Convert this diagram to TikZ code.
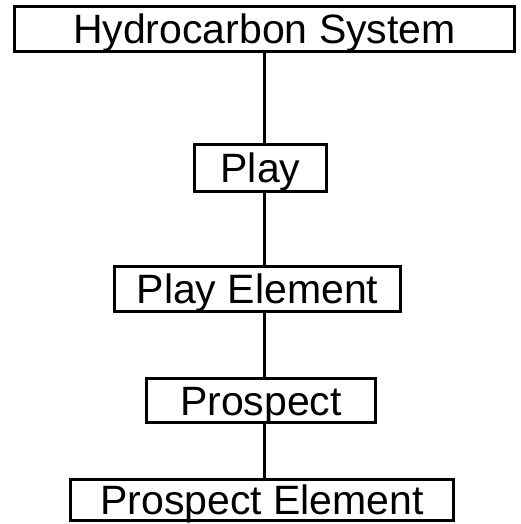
\documentclass[tikz,border=0pt]{standalone}
\usepackage{fontspec}
\setmainfont{Liberation Sans}
\begin{document}
\begin{tikzpicture}[x=1pt,y=-1pt,
  levelbox/.style={draw=black, line width=3.2pt, rectangle, inner sep=0pt,
    text height=29.5pt, text depth=0pt,
    font=\fontsize{41}{41}\selectfont, text=black},
  link/.style={draw=black, line width=3pt}]
  \useasboundingbox[fill=white] (0,0) rectangle (521,524);

  \node[levelbox, minimum width=500, minimum height=45] (hs) at (264.5,29) {Hydrocarbon System};
  \node[levelbox, minimum width=132, minimum height=47] (play) at (260.5,168) {Play};
  \node[levelbox, minimum width=286, minimum height=45] (pe) at (257.5,289) {Play Element};
  \node[levelbox, minimum width=229, minimum height=44] (pr) at (261,400.5) {Prospect};
  \node[levelbox, minimum width=383, minimum height=41] (pre) at (262,500) {Prospect Element};

  \coordinate (spine) at (264,0);
  \draw[link] (hs.south -| spine) -- (play.north -| spine);
  \draw[link] (play.south -| spine) -- (pe.north -| spine);
  \draw[link] (pe.south -| spine) -- (pr.north -| spine);
  \draw[link] (pr.south -| spine) -- (pre.north -| spine);
\end{tikzpicture}
\end{document}
